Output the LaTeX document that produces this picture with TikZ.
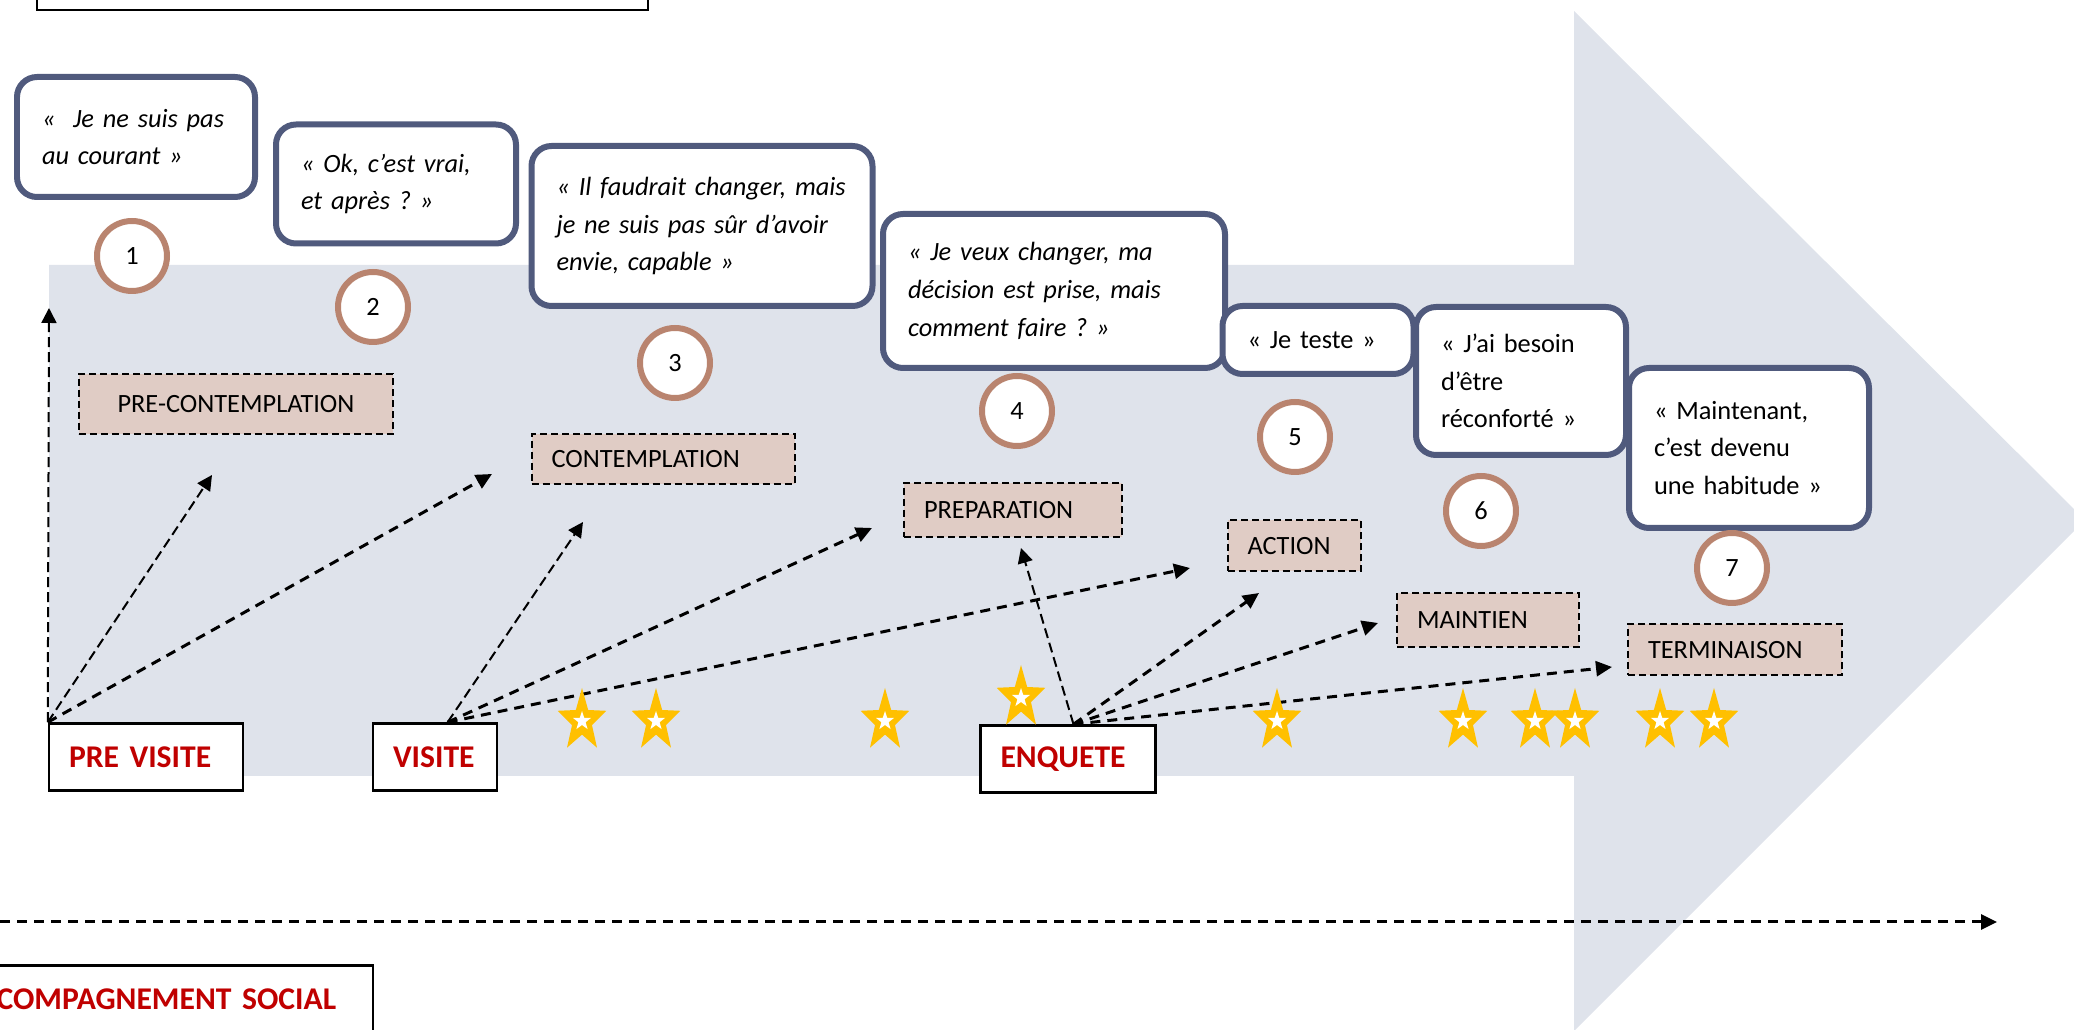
\documentclass[tikz,border=0pt]{standalone}
\usepackage{fontspec}
\setmainfont{Carlito}
\usepackage{xcolor}
\usepackage{tikz}
\usetikzlibrary{arrows.meta}
\definecolor{ArrowGrey}{HTML}{DFE3EB}
\definecolor{QuoteNavy}{HTML}{505A7D}
\definecolor{RingBrown}{HTML}{B9846F}
\definecolor{StageRose}{HTML}{E0CCC5}
\definecolor{StarGold}{HTML}{FFC000}
\definecolor{SourceRed}{HTML}{C00000}
\newcommand{\goldstar}[2]{%
\fill[StarGold] (#1,#2) ++(90:0.255 and 0.33) \foreach \a in {0,...,4} {-- ($(#1,#2)+(126+72*\a:0.105 and 0.136)$) -- ($(#1,#2)+(162+72*\a:0.255 and 0.33)$)} -- cycle;
\fill[white] (#1,#2) ++(90:0.095 and 0.10) \foreach \a in {0,...,4} {-- ($(#1,#2)+(126+72*\a:0.038 and 0.04)$) -- ($(#1,#2)+(162+72*\a:0.095 and 0.10)$)} -- cycle;}
\usetikzlibrary{calc}
\frenchspacing

\begin{document}
\begin{tikzpicture}[x=1cm,y=1cm,
quote/.style={draw=QuoteNavy,line width=0.06cm,rounded corners=0.2cm,fill=white,inner xsep=0.25cm,inner ysep=0cm,align=left,font=\fontsize{7.5}{10.7}\selectfont},
quoteit/.style={quote,font=\fontsize{7.5}{10.7}\selectfont\itshape},
ring/.style={circle,draw=RingBrown,line width=0.06cm,fill=white,minimum size=0.70cm,inner sep=0pt,font=\fontsize{7.5}{9}\selectfont},
stage/.style={draw,dash pattern=on 0.07cm off 0.04cm,line width=0.02cm,fill=StageRose,inner xsep=0.2cm,inner ysep=0cm,align=left,font=\fontsize{7.5}{9}\selectfont},
source/.style={draw,line width=0.025cm,fill=white,text=SourceRed,inner xsep=0.2cm,inner ysep=0cm,align=left,minimum height=0.67cm,font=\fontsize{9}{11}\selectfont\bfseries},
thinlink/.style={line width=0.02cm,dash pattern=on 0.10cm off 0.05cm,-{Triangle[length=0.15cm,width=0.15cm]}},
thicklink/.style={line width=0.03cm,dash pattern=on 0.10cm off 0.07cm,-{Triangle[length=0.16cm,width=0.15cm]}}]
\path[use as bounding box] (0,0) rectangle (20.74,10.30);
\clip (0,0) rectangle (20.74,10.30);
\fill[ArrowGrey] (0.49,2.54) -- (15.74,2.54) -- (15.74,-0.01) -- (20.85,5.10) -- (15.74,10.19) -- (15.74,7.65) -- (0.49,7.65) -- cycle;
\draw[line width=0.02cm] (0.37,10.20) rectangle (6.48,10.60);
\node[quoteit,text width=1.88cm,minimum height=1.20cm] (q1) at (1.36,8.93) {«~~Je ne suis pas\\au courant~»\\[0.05cm]};
\node[quoteit,text width=1.90cm,minimum height=1.19cm] (q2) at (3.96,8.46) {«~Ok, c’est vrai,\\et après~?~»\\[0.05cm]};
\node[quoteit,text width=2.91cm,minimum height=1.60cm] (q3) at (7.02,8.04) {«~Il faudrait changer, mais\\je ne suis pas sûr d’avoir\\envie, capable~»};
\node[quoteit,text width=2.92cm,minimum height=1.54cm] (q4) at (10.54,7.39) {«~Je veux changer, ma\\décision est prise, mais\\comment faire~?~»};
\node[quote,text width=1.41cm,minimum height=0.68cm] (q5) at (13.18,6.90) {«~Je teste~»};
\node[quote,text width=1.60cm,minimum height=1.48cm] (q6) at (15.21,6.49) {«~J’ai besoin\\d’être\\réconforté~»};
\node[quote,text width=1.90cm,minimum height=1.60cm] (q7) at (17.49,5.82) {«~Maintenant,\\c’est devenu\\une habitude~»};
\node[ring] (c1) at (1.32,7.74) {1};
\node[ring] (c2) at (3.73,7.23) {2};
\node[ring] (c3) at (6.75,6.67) {3};
\node[ring] (c4) at (10.17,6.19) {4};
\node[ring] (c5) at (12.95,5.93) {5};
\node[ring] (c6) at (14.81,5.19) {6};
\node[ring] (c7) at (17.32,4.62) {7};
\node[stage,text width=2.60cm,align=center,inner xsep=0.27cm,minimum height=0.60cm] (precontemplation) at (2.36,6.26) {PRE-CONTEMPLATION};
\node[stage,text width=2.23cm,minimum height=0.50cm] (contemplation) at (6.63,5.71) {CONTEMPLATION};
\node[stage,text width=1.78cm,minimum height=0.54cm] (preparation) at (10.13,5.20) {PREPARATION};
\node[stage,text width=0.93cm,minimum height=0.51cm] (action) at (12.94,4.84) {ACTION};
\node[stage,text width=1.42cm,minimum height=0.54cm] (maintien) at (14.88,4.10) {MAINTIEN};
\node[stage,text width=1.74cm,minimum height=0.51cm] (terminaison) at (17.35,3.80) {TERMINAISON};
\node[source,text width=1.54cm] (previsite) at (1.46,2.73) {PRE VISITE};
\node[source,text width=0.84cm] (visite) at (4.35,2.73) {VISITE};
\node[source,text width=1.35cm] (enquete) at (10.68,2.71) {ENQUETE};
\node[source,text width=3.92cm] (accompagnement) at (1.57,0.31) {ACCOMPAGNEMENT SOCIAL};
\coordinate (pvup) at (0.49,7.22);
\coordinate (pvone) at (2.12,5.55);
\coordinate (pvtwo) at (4.92,5.56);
\coordinate (vone) at (5.83,5.08);
\coordinate (vtwo) at (8.72,5.02);
\coordinate (vthree) at (11.90,4.62);
\coordinate (eone) at (10.21,4.82);
\coordinate (etwo) at (12.59,4.37);
\coordinate (ethree) at (13.78,4.07);
\coordinate (efour) at (16.12,3.63);
\coordinate (trackstart) at (0,1.08);
\coordinate (trackend) at (19.97,1.08);
\draw[thinlink] (previsite.north west) -- (pvup);
\draw[thinlink] (previsite.north west) -- (pvone);
\draw[thicklink] (previsite.north west) -- (pvtwo);
\draw[thinlink] (visite.70) -- (vone);
\draw[thicklink] (visite.70) -- (vtwo);
\draw[thicklink] (visite.70) -- (vthree);
\draw[thinlink] (enquete.81) -- (eone);
\draw[thicklink] (enquete.81) -- (etwo);
\draw[thicklink] (enquete.81) -- (ethree);
\draw[thicklink] (enquete.81) -- (efour);
\draw[thicklink] (trackstart) -- (trackend);
\goldstar{5.82}{3.09}
\goldstar{6.56}{3.09}
\goldstar{8.85}{3.09}
\goldstar{10.21}{3.32}
\goldstar{12.77}{3.09}
\goldstar{14.63}{3.09}
\goldstar{15.35}{3.09}
\goldstar{15.75}{3.09}
\goldstar{16.60}{3.09}
\goldstar{17.14}{3.09}
\end{tikzpicture}
\end{document}
